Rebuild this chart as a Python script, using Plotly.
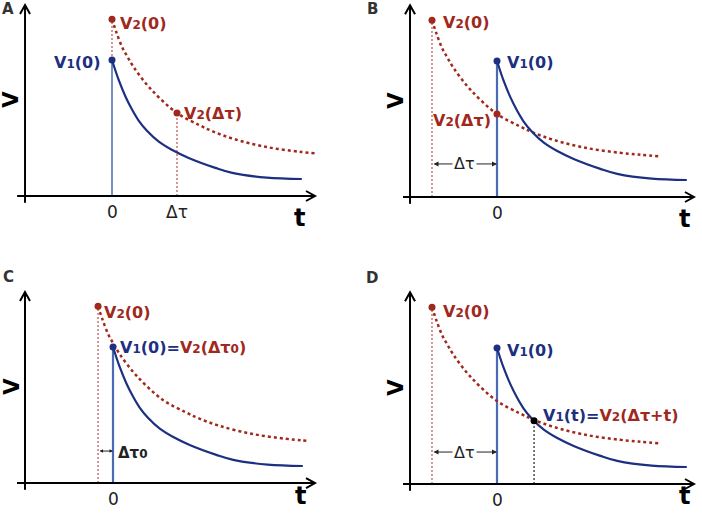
import plotly.graph_objects as go
from plotly.subplots import make_subplots

# V1: blue solid curve, t counted from its own start
v1_t = [0, 0.10, 0.205, 0.308, 0.41, 0.538, 0.72, 0.92, 1.18, 1.59, 1.85, 2.38, 2.92]
v1_v = [1.0, 0.857, 0.734, 0.636, 0.555, 0.48, 0.40, 0.34, 0.28, 0.207, 0.17, 0.135, 0.125]

# V2: red dotted curve, t counted from its own start
v2_t = [0, 0.07, 0.16, 0.23, 0.33, 0.59, 1.0, 1.35, 1.55, 1.87, 2.38, 2.89, 3.12, 3.23, 3.48]
v2_v = [1.30, 1.20, 1.09, 1.03, 0.95, 0.79, 0.61, 0.52, 0.475, 0.42, 0.36, 0.325, 0.315, 0.31, 0.30]

panels = ['A', 'B', 'C', 'D']
dtau = 1.0
dtau0 = 0.23
v2_start = [0, -dtau, -dtau0, -dtau]   # where V2 starts on each panel's t axis
v2_last = [3.12, 3.48, 3.23, 3.48]     # last V2 sample shown per panel
cross_t = 0.57
cross_v = 0.465
tick_labels = [['0', 'Δτ'], ['0'], ['0'], ['0']]
tick_pos = [[0, dtau], [0], [0], [0]]

BLUE = '#1d2f80'
BLUE_LINE = '#4a6bb3'
RED = '#a0281d'
RED_LINE = '#c0504d'
FONT = 'DejaVu Sans'

# axis windows (1 t unit = 65px, 1 V unit = 136px)
x_ranges = [[-1.7231, 3.6769], [-2.2462, 3.1538], [-1.7385, 3.6615], [-2.2462, 3.1538]]
y_ranges = [[-0.4485, 1.4412], [-0.4412, 1.4485], [-0.2279, 1.6618], [-0.2206, 1.6691]]
yaxis_at = [-1.338, -1.338, -1.354, -1.338]
xaxis_from = [-1.46, -1.446, -1.477, -1.446]
xaxis_to = [3.123, 3.03, 3.108, 3.03]
yaxis_top = [1.404, 1.41, 1.404, 1.41]
t_label = [(-0.165, 'middle'), (-0.165, 'middle'), (-0.213, 'bottom'), (-0.206, 'bottom')]
letter_xy = [(8, 9), (372, 9), (8, 277), (372, 278)]


def sub(d):
    return '<span style="font-size:12px">' + d + '</span>'


def red(s):
    return '<span style="color:' + RED + '">' + s + '</span>'


def blue(s):
    return '<span style="color:' + BLUE + '">' + s + '</span>'


fig = make_subplots(rows=2, cols=2, horizontal_spacing=0, vertical_spacing=0)


def seg(x, y, color, width, dash, r, c):
    fig.add_trace(go.Scatter(x=x, y=y, mode='lines', hoverinfo='skip',
                             line=dict(color=color, width=width, dash=dash)), row=r, col=c)


def dot(x, y, color, r, c):
    fig.add_trace(go.Scatter(x=[x], y=[y], mode='markers', hoverinfo='skip',
                             marker=dict(color=color, size=7)), row=r, col=c)


def label(text, x, y, r, c, xanchor='left', size=16, color=BLUE, bold=True, yanchor='middle', **kw):
    fig.add_annotation(text=text, x=x, y=y, xanchor=xanchor, yanchor=yanchor, showarrow=False,
                       font=dict(family=FONT, size=size, color=color, weight='bold' if bold else 'normal'),
                       row=r, col=c, **kw)


for i, p in enumerate(panels):
    r, c = i // 2 + 1, i % 2 + 1
    shift = v2_start[i]
    xs = [t + shift for t in v2_t if t <= v2_last[i]]
    ys = [v for t, v in zip(v2_t, v2_v) if t <= v2_last[i]]

    # guide lines
    if p == 'A':
        seg([0, 0], [0, v1_v[0]], BLUE_LINE, 1.5, 'solid', r, c)
        seg([0, 0], [v1_v[0], v2_v[0]], RED_LINE, 1.2, '2px,2px', r, c)
        seg([dtau, dtau], [0, v2_v[v2_t.index(1.0)]], RED_LINE, 1.2, '2px,2px', r, c)
    else:
        seg([shift, shift], [0, v2_v[0]], RED_LINE, 1.2, '2px,2px', r, c)
        seg([0, 0], [0, v1_v[0]], BLUE_LINE, 2.2, 'solid', r, c)
    if p == 'D':
        seg([cross_t, cross_t], [0, cross_v], '#222222', 1.2, '2px,2px', r, c)

    # curves
    fig.add_trace(go.Scatter(x=xs, y=ys, mode='lines', hoverinfo='skip',
                             line=dict(color=RED, width=2.5, dash='3px,3px', shape='spline', smoothing=1)),
                  row=r, col=c)
    fig.add_trace(go.Scatter(x=v1_t, y=v1_v, mode='lines', hoverinfo='skip',
                             line=dict(color=BLUE, width=2.2, shape='spline', smoothing=1)),
                  row=r, col=c)

    # points
    dot(shift, v2_v[0], RED, r, c)
    dot(0, v1_v[0], BLUE, r, c)
    if p == 'A':
        dot(dtau, v2_v[v2_t.index(1.0)], RED, r, c)
    if p == 'B':
        dot(0, v2_v[v2_t.index(1.0)], RED, r, c)
    if p == 'D':
        dot(cross_t, cross_v, 'black', r, c)

    # axes with open arrow heads
    ax_line = dict(color='black', width=2)
    fig.add_shape(type='line', x0=yaxis_at[i], x1=yaxis_at[i], y0=-0.05, y1=yaxis_top[i],
                  line=ax_line, row=r, col=c)
    fig.add_shape(type='line', x0=xaxis_from[i], x1=xaxis_to[i], y0=0, y1=0,
                  line=ax_line, row=r, col=c)
    xt, yt = xaxis_to[i], yaxis_top[i]
    fig.add_shape(type='path', line=ax_line, row=r, col=c,
                  path=f'M {xt - 9 / 65} {5 / 136} L {xt} 0 L {xt - 9 / 65} {-5 / 136}')
    ya = yaxis_at[i]
    fig.add_shape(type='path', line=ax_line, row=r, col=c,
                  path=f'M {ya - 5 / 65} {yt - 9 / 136} L {ya} {yt} L {ya + 5 / 65} {yt - 9 / 136}')

    # axis titles and ticks
    label('V', -1.55, 0.71, r, c, xanchor='center', size=21, color='black', textangle=-90)
    ty, tanchor = t_label[i]
    label('t', 2.88, ty, r, c, xanchor='center', yanchor=tanchor, size=24, color='black')
    for tl, tp in zip(tick_labels[i], tick_pos[i]):
        label(tl, tp, -0.12, r, c, xanchor='center', size=17, color='#222222', bold=False)

    lx, ly = letter_xy[i]
    fig.add_annotation(text=p, x=lx / 702, y=1 - ly / 514, xref='paper', yref='paper',
                       xanchor='center', yanchor='middle', showarrow=False,
                       font=dict(family=FONT, size=15, color='#333333', weight='bold'))

# panel text
V1_0 = 'V' + sub('1') + '(0)'
V2_0 = 'V' + sub('2') + '(0)'
label(red(V2_0), 0.09, 1.27, 1, 1, color=RED)
label(blue(V1_0), -0.14, 0.98, 1, 1, xanchor='right')
label(red('V' + sub('2') + '(Δτ)'), 1.077, 0.61, 1, 1, color=RED)

label(red(V2_0), -0.862, 1.28, 1, 2, color=RED)
label(blue(V1_0), 0.123, 0.99, 1, 2)
label(red('V' + sub('2') + '(Δτ)'), -0.062, 0.566, 1, 2, xanchor='right', color=RED)

label(red(V2_0), -0.169, 1.257, 2, 1, color=RED)
label(blue(V1_0 + '=') + red('V' + sub('2') + '(Δτ' + sub('0') + ')'), 0.077, 0.993, 2, 1)

label(red(V2_0), -0.862, 1.265, 2, 2, color=RED)
label(blue(V1_0), 0.123, 0.985, 2, 2)
label(blue('V' + sub('1') + '(t)=') + red('V' + sub('2') + '(Δτ+t)'), 0.677, 0.507, 2, 2)

# Δτ spans
for (r, c), yv in [((1, 2), 0.243), ((2, 2), 0.235)]:
    k = (r - 1) * 2 + c
    fig.add_annotation(x=0, y=yv, ax=-dtau, ay=yv, xref=f'x{k}', yref=f'y{k}',
                       axref=f'x{k}', ayref=f'y{k}', text='',
                       showarrow=True, arrowside='end+start', arrowhead=2, arrowsize=1,
                       arrowwidth=1, arrowcolor='#222222')
    label('Δτ', -dtau / 2, yv, r, c, xanchor='center', size=16, color='#222222', bold=False,
          bgcolor='white')

fig.add_annotation(x=0, y=0.235, ax=-dtau0, ay=0.235, xref='x3', yref='y3', axref='x3', ayref='y3',
                   text='', showarrow=True, arrowside='end+start', arrowhead=2, arrowsize=0.7,
                   arrowwidth=1, arrowcolor='#222222')
label('Δτ' + sub('0'), 0.046, 0.22, 2, 1, size=15, color='#222222')

for i in range(4):
    fig.update_xaxes(range=x_ranges[i], visible=False, row=i // 2 + 1, col=i % 2 + 1)
    fig.update_yaxes(range=y_ranges[i], visible=False, row=i // 2 + 1, col=i % 2 + 1)

fig.update_layout(width=702, height=514, margin=dict(l=0, r=0, t=0, b=0),
                  showlegend=False, plot_bgcolor='white', paper_bgcolor='white')
fig.write_html('out.html', config={'displayModeBar': False},
               post_script="document.body.style.margin='0';")
